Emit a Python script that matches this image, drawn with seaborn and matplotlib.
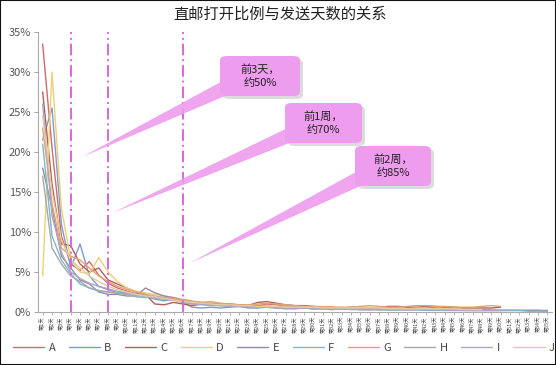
import numpy as np
import pandas as pd
import matplotlib
matplotlib.use("Agg")
import matplotlib.pyplot as plt
import seaborn as sns
from matplotlib.patches import FancyBboxPatch, Polygon, Rectangle

sns.set_theme(style="white")
plt.rcParams['font.family'] = ['Noto Sans CJK SC', 'DejaVu Sans']

title = "直邮打开比例与发送天数的关系"
series_names = ["A", "B", "C", "D", "E", "F", "G", "H", "I", "J"]
A = [33.5, 20.5, 9.5, 6.0, 5.2, 6.3, 4.6, 3.6, 3.0, 2.6, 2.3, 2.1, 1.9, 1.7, 1.5, 1.3, 1.1, 1.0, 0.9, 0.9, 0.8, 0.8, 0.7, 0.8, 1.0, 0.9, 0.7, 0.6, 0.6, 0.5, 0.5, 0.4, 0.4, 0.5, 0.5, 0.4, 0.4, 0.3, 0.3, 0.4, 0.5, 0.6, 0.5, 0.4, 0.4, 0.3, 0.3, 0.3, 0.2]
B = [21.5, 25.5, 11.0, 5.5, 8.5, 4.5, 3.2, 2.8, 2.4, 2.5, 2.2, 2.0, 1.6, 1.4, 1.6, 1.2, 0.6, 0.5, 0.6, 0.5, 0.6, 0.7, 0.5, 0.5, 0.6, 0.5, 0.4, 0.4, 0.5, 0.4, 0.4, 0.3, 0.4, 0.4, 0.3, 0.3, 0.4, 0.3, 0.3, 0.3, 0.4, 0.3, 0.3, 0.3, 0.3, 0.2, 0.2, 0.2, 0.2, 0.2, 0.2, 0.2, 0.2, 0.2, 0.1]
C = [27.5, 16.0, 8.5, 8.3, 6.0, 5.0, 5.5, 4.0, 3.5, 3.0, 2.5, 2.2, 1.0, 0.9, 1.2, 1.0, 0.8, 1.0, 1.1, 1.0, 1.0, 0.9, 0.8, 1.2, 1.3, 1.1, 0.9, 0.8, 0.8, 0.7, 0.6, 0.6, 0.5, 0.6, 0.6, 0.5, 0.6, 0.7, 0.7, 0.6, 0.6, 0.7, 0.7, 0.6, 0.6, 0.5, 0.5, 0.5, 0.5, 0.6]
D = [4.5, 30.0, 13.0, 6.5, 5.0, 4.8, 6.8, 5.0, 3.8, 3.0, 2.6, 2.4, 2.2, 2.0, 1.8, 1.6, 1.4, 1.2, 1.1, 1.0, 0.9, 0.8, 0.8, 0.9, 0.8, 0.7, 0.7, 0.6, 0.6, 0.6, 0.5, 0.5, 0.5, 0.5, 0.6, 0.6, 0.5, 0.5, 0.4, 0.4, 0.5, 0.5, 0.4, 0.4, 0.4, 0.3, 0.3, 0.3]
E = [18.0, 13.0, 7.0, 5.5, 4.0, 3.5, 2.5, 2.2, 2.2, 2.0, 2.0, 3.0, 2.4, 2.0, 1.8, 1.5, 1.3, 1.2, 1.0, 1.0, 0.9, 0.9, 0.8, 0.8, 0.7, 0.6, 0.6, 0.6, 0.5, 0.5, 0.5, 0.4, 0.4, 0.4, 0.4, 0.4, 0.3, 0.3, 0.3, 0.3, 0.3, 0.3, 0.3, 0.3, 0.3, 0.3, 0.2, 0.2, 0.2, 0.2, 0.2, 0.2, 0.2, 0.2, 0.2]
F = [21.0, 9.5, 6.5, 4.8, 3.5, 3.0, 2.6, 2.5, 2.4, 2.3, 1.9, 1.8, 1.9, 1.7, 1.6, 1.4, 1.2, 1.0, 0.9, 0.8, 0.8, 0.7, 0.7, 0.6, 0.6, 0.6, 0.5, 0.5, 0.5, 0.4, 0.4, 0.4, 0.4, 0.4, 0.3, 0.3, 0.3, 0.3, 0.3, 0.3, 0.3, 0.2, 0.2, 0.2, 0.2, 0.2, 0.2, 0.2, 0.2, 0.2, 0.2, 0.2, 0.1, 0.1, 0.1]
G = [23.0, 13.5, 8.0, 7.0, 6.5, 5.5, 4.5, 3.8, 3.2, 2.8, 2.5, 2.2, 2.0, 1.8, 1.7, 1.5, 1.3, 1.2, 1.3, 1.1, 1.0, 0.9, 0.9, 1.0, 1.1, 1.0, 0.9, 0.8, 0.7, 0.7, 0.6, 0.6, 0.6, 0.6, 0.7, 0.8, 0.7, 0.6, 0.6, 0.7, 0.8, 0.8, 0.7, 0.7, 0.6, 0.6, 0.6, 0.7, 0.8, 0.7]
H = [17.0, 8.0, 6.0, 4.5, 3.8, 3.0, 2.7, 2.5, 2.3, 2.2, 2.0, 2.0, 1.9, 1.8, 1.5, 1.3, 1.1, 1.0, 0.9, 0.8, 0.8, 0.7, 0.7, 0.6, 0.6, 0.6, 0.5, 0.5, 0.5, 0.4, 0.4, 0.4, 0.4, 0.3, 0.3, 0.3, 0.3, 0.3, 0.3, 0.3, 0.3, 0.3, 0.3, 0.3, 0.3, 0.2, 0.2, 0.2, 0.2, 0.2]
I = [26.0, 12.0, 7.5, 5.0, 4.2, 3.6, 3.2, 2.9, 2.6, 2.4, 2.2, 2.0, 1.7, 1.6, 1.5, 1.2, 1.0, 0.9, 0.8, 0.8, 0.7, 0.7, 0.6, 0.6, 0.6, 0.5, 0.5, 0.5, 0.5, 0.4, 0.4, 0.4, 0.4, 0.4, 0.4, 0.3, 0.3, 0.3, 0.3, 0.3, 0.3, 0.3, 0.3, 0.2, 0.2, 0.2, 0.2, 0.2, 0.2, 0.2]
J = [24.5, 15.0, 9.0, 6.5, 5.5, 4.5, 3.8, 3.2, 2.8, 2.5, 2.2, 2.0, 1.9, 1.7, 1.5, 1.3, 1.2, 1.1, 1.0, 0.9, 0.9, 0.8, 0.8, 0.7, 0.7, 0.7, 0.6, 0.6, 0.6, 0.6, 0.5, 0.5, 0.5, 0.5, 0.5, 0.5, 0.5, 0.4, 0.4, 0.4, 0.4, 0.4, 0.4, 0.4, 0.4, 0.3, 0.3, 0.3]
n_days = 55
day_labels = [f"第{i}天" for i in range(1, n_days + 1)]
marker_days = [3, 7, 15]          # index positions of dash-dot separators
callout_texts = ["前3天，\n约50%", "前1周，\n约70%", "前2周，\n约85%"]
y_ticks = [0, 5, 10, 15, 20, 25, 30, 35]

colors = ['#CF6A6E', '#7E9CC6', '#B0605A', '#EBCF7A', '#978AA8',
          '#7DB8CC', '#E6A26E', '#A8A8A8', '#B0A4C4', '#E3CDA2']

all_series = [A, B, C, D, E, F, G, H, I, J]
rows = []
for name, vals in zip(series_names, all_series):
    for d, v in enumerate(vals):
        rows.append({"day": d, "rate": v, "series": name})
df = pd.DataFrame(rows)

W, Hh = 556, 365
fig = plt.figure(figsize=(W / 100, Hh / 100), dpi=100)
ax = fig.add_axes([38 / W, 1 - 312 / Hh, (552 - 38) / W, (312 - 32) / Hh])

sns.lineplot(data=df, x="day", y="rate", hue="series", palette=colors,
             linewidth=1.0, ax=ax, legend=True)

ax.set_xlim(-0.5, n_days - 0.5)
ax.set_ylim(0, 35)
ax.set_yticks(y_ticks)
ax.set_yticklabels([f"{t}%" for t in y_ticks], color='#555555', fontsize=8)
ax.set_xticks(range(n_days))
ax.set_xticklabels(day_labels, rotation=90, fontsize=3.8, color='#444444')
ax.tick_params(axis='y', length=3, width=0.6, color='#999999', pad=2, left=True)
ax.tick_params(axis='x', length=2, width=0.5, color='#999999', pad=1, bottom=True)
ax.set_xlabel("")
ax.set_ylabel("")
for s in ['top', 'right']:
    ax.spines[s].set_visible(False)
for s in ['left', 'bottom']:
    ax.spines[s].set_color('#AAAAAA')
    ax.spines[s].set_linewidth(0.8)

for d in marker_days:
    ax.axvline(d, color='#D868D8', linestyle=(0, (6, 2, 1, 2)), linewidth=1.4, zorder=5)

# legend
ax.get_legend().remove()
handles, labels = ax.get_legend_handles_labels()
leg = fig.legend(handles, labels, loc='lower center', bbox_to_anchor=(284 / W, 2 / Hh),
                 ncol=10, frameon=False, fontsize=8,
                 handlelength=2.8, handletextpad=0.4, columnspacing=1.2)
for line in leg.get_lines():
    line.set_linewidth(1.0)
for t in leg.get_texts():
    t.set_color('#444444')

fig.text(280 / W, 1 - 14 / Hh, title, ha='center', va='center', fontsize=11, color='#222222')

def P(x, y):
    return (x / W, 1 - y / Hh)

boxes = [(220, 56, 80, 40), (285, 103, 77, 40), (355, 146, 76, 40)]
tips = [(82, 157), (112, 213), (190, 263)]
box_col = '#EE9CEE'
for (bx, by, bw, bh), (tx, ty), txt in zip(boxes, tips, callout_texts):
    sh = FancyBboxPatch(P(bx + 3, by + bh + 3), bw / W, bh / Hh,
                        boxstyle="round,pad=0,rounding_size=0.012",
                        transform=fig.transFigure, facecolor='#BBBBBB', edgecolor='none',
                        alpha=0.5, zorder=6)
    fig.patches.append(sh)
    wedge = Polygon([P(tx, ty), P(bx + 3, by + bh * 0.62), P(bx + 12, by + bh - 3)],
                    closed=True, transform=fig.transFigure, facecolor=box_col,
                    edgecolor='none', alpha=0.9, zorder=7)
    fig.patches.append(wedge)
    bp = FancyBboxPatch(P(bx, by + bh), bw / W, bh / Hh,
                        boxstyle="round,pad=0,rounding_size=0.012",
                        transform=fig.transFigure, facecolor=box_col, edgecolor='none',
                        zorder=8)
    fig.patches.append(bp)
    fig.text(*P(bx + bw / 2, by + bh / 2), txt, ha='center', va='center',
             fontsize=8, color='#222222', zorder=9, linespacing=1.4)

fig.patches.append(Rectangle((0, 0), 1, 1, transform=fig.transFigure, fill=False,
                             edgecolor='#111111', linewidth=1.5, zorder=20))

fig.savefig("out.png", dpi=100)
